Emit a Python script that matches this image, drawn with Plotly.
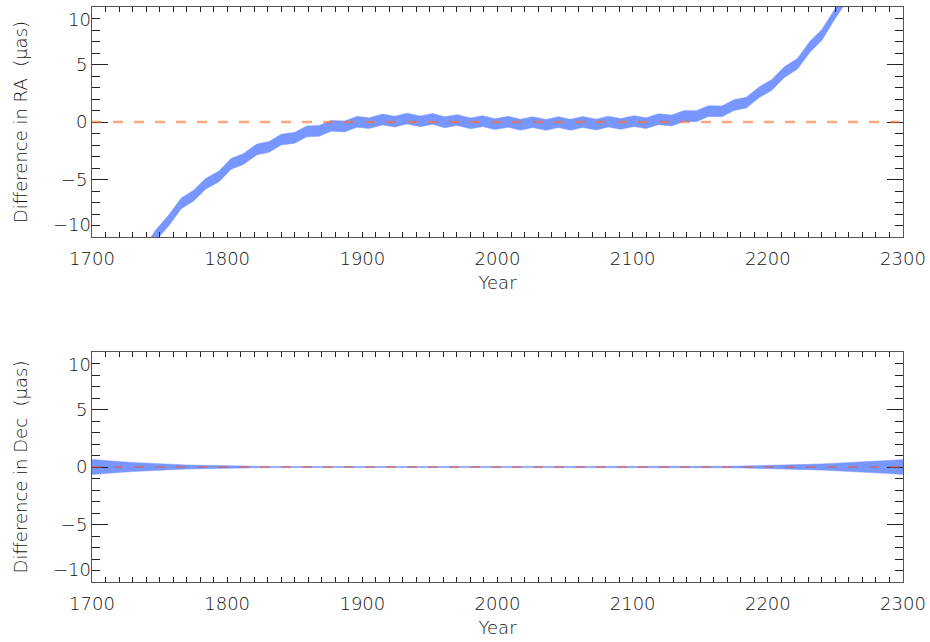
import plotly.graph_objects as go
from plotly.subplots import make_subplots

# ---- data ----
# RA difference: centre of the noisy band at local peaks/troughs of the ~18.6 yr wiggle
ra_year = [1738, 1747, 1757, 1766, 1775, 1784, 1794, 1803, 1812, 1822,
           1831, 1840, 1850, 1859, 1868, 1877, 1887, 1896, 1905, 1915,
           1924, 1933, 1943, 1952, 1961, 1970, 1980, 1989, 1998, 2008,
           2017, 2026, 2036, 2045, 2054, 2063, 2073, 2082, 2091, 2101,
           2110, 2119, 2129, 2138, 2147, 2156, 2166, 2175, 2184, 2194,
           2203, 2212, 2222, 2231, 2240, 2249, 2259, 2268]
ra_mid = [-11.52, -9.88, -8.52, -7.08, -6.42, -5.38, -4.72, -3.63, -3.22, -2.38,
          -2.17, -1.53, -1.37, -0.81, -0.77, -0.33, -0.39, 0.02, -0.1, 0.22,
          0.03, 0.3, 0.06, 0.27, -0.02, 0.17, -0.12, 0.07, -0.19, 0.02,
          -0.24, -0.01, -0.25, -0.01, -0.24, 0.0, -0.22, 0.04, -0.17, 0.07,
          -0.1, 0.24, 0.13, 0.52, 0.5, 0.94, 0.93, 1.47, 1.68, 2.62,
          3.23, 4.32, 5.08, 6.52, 7.58, 9.32, 11.08, 13.62]
ra_half_width = 0.47

# Dec difference: half-width of the band (symmetric about zero)
dec_year = [1700, 1705, 1710, 1720, 1730, 1740, 1750, 1760, 1770, 1780,
            1790, 1800, 1810, 1820, 1830, 1850, 1900, 1950, 2000, 2050,
            2100, 2150, 2170, 2180, 2190, 2200, 2210, 2220, 2230, 2240,
            2250, 2260, 2270, 2280, 2290, 2295, 2300]
dec_half_width = [0.66, 0.6, 0.55, 0.47, 0.4, 0.33, 0.27, 0.22, 0.18, 0.15,
                  0.12, 0.1, 0.08, 0.06, 0.05, 0.04, 0.035, 0.035, 0.035, 0.035,
                  0.035, 0.04, 0.06, 0.08, 0.1, 0.13, 0.16, 0.19, 0.23, 0.27,
                  0.32, 0.37, 0.43, 0.5, 0.57, 0.61, 0.66]

x_range = [1700, 2300]
y_range = [-10, 10]
x_tickvals = [1700, 1800, 1900, 2000, 2100, 2200, 2300]
y_tickvals = [-10, -5, 0, 5, 10]
y_ticktext_inner = ["", "−5", "0", "5", ""]
y_top_label = ["10"]
y_bottom_label = ["−10"]

ra_title = "Difference in RA  (μas)"
dec_title = "Difference in Dec  (μas)"
x_title = "Year"

# ---- styles ----
BAND = "rgb(120,150,255)"
FONT = dict(family="DejaVu Sans", size=18, color="#111111", weight=200)

fig = make_subplots(rows=2, cols=1)

ra_lower = [m - ra_half_width for m in ra_mid]
ra_upper = [m + ra_half_width for m in ra_mid]
fig.add_trace(go.Scatter(x=ra_year, y=ra_lower, mode="lines",
                         line=dict(color=BAND, width=0.5),
                         showlegend=False, hoverinfo="skip"), row=1, col=1)
fig.add_trace(go.Scatter(x=ra_year, y=ra_upper, mode="lines",
                         line=dict(color=BAND, width=0.5),
                         fill="tonexty", fillcolor=BAND,
                         showlegend=False, hoverinfo="skip"), row=1, col=1)

dec_lower = [-h for h in dec_half_width]
fig.add_trace(go.Scatter(x=dec_year, y=dec_lower, mode="lines",
                         line=dict(color=BAND, width=0.5),
                         showlegend=False, hoverinfo="skip"), row=2, col=1)
fig.add_trace(go.Scatter(x=dec_year, y=dec_half_width, mode="lines",
                         line=dict(color=BAND, width=0.5),
                         fill="tonexty", fillcolor=BAND,
                         showlegend=False, hoverinfo="skip"), row=2, col=1)

# empty traces so the overlay axes carrying the end labels get drawn
for xa, ya in [("x", "y3"), ("x", "y4"), ("x2", "y5"), ("x2", "y6")]:
    fig.add_trace(go.Scatter(x=[None], y=[None], xaxis=xa, yaxis=ya, mode="lines",
                             showlegend=False, hoverinfo="skip"))

fig.add_hline(y=0, line=dict(color="rgba(247,110,45,0.6)", width=2.5, dash="10px,11px"),
              row=1, col=1)
fig.add_hline(y=0, line=dict(color="rgb(232,85,55)", width=1.2, dash="10px,11px"),
              row=2, col=1)

common_x = dict(range=x_range, tickvals=x_tickvals, showgrid=False, zeroline=False,
                showline=True, linecolor="#555", linewidth=1, mirror="allticks",
                ticks="inside", ticklen=5, tickcolor="#222", tickwidth=1,
                minor=dict(dtick=10, ticks="inside", ticklen=3, tickcolor="#222", showgrid=False),
                tickfont=FONT, ticklabelstandoff=5, automargin=False,
                title=dict(text=x_title, font=FONT, standoff=8))
common_y = dict(range=y_range, tickvals=y_tickvals, ticktext=y_ticktext_inner,
                showgrid=False, zeroline=False,
                showline=True, linecolor="#555", linewidth=1, mirror="allticks",
                ticks="inside", ticklen=16, tickcolor="#222", tickwidth=1,
                minor=dict(dtick=1, ticks="inside", ticklen=8, tickcolor="#222", showgrid=False),
                tickfont=FONT, automargin=False)

fig.update_xaxes(**common_x)
fig.update_layout(yaxis=common_y, yaxis2=common_y)

end_label = dict(range=y_range, showgrid=False, zeroline=False, showline=False,
                 ticks="", tickfont=FONT, automargin=False, side="left")

fig.update_layout(
    xaxis=dict(domain=[0, 1], anchor="y"),
    yaxis=dict(domain=[0.6, 1.0], anchor="x",
               title=dict(text=ra_title, font=FONT, standoff=28)),
    xaxis2=dict(domain=[0, 1], anchor="y2"),
    yaxis2=dict(domain=[0.0, 0.4], anchor="x2",
                title=dict(text=dec_title, font=FONT, standoff=28)),
    yaxis3=dict(overlaying="y", anchor="x", tickvals=[10], ticktext=y_top_label,
                ticklabelposition="outside bottom", **end_label),
    yaxis4=dict(overlaying="y", anchor="x", tickvals=[-10], ticktext=y_bottom_label,
                ticklabelposition="outside top", **end_label),
    yaxis5=dict(overlaying="y2", anchor="x2", tickvals=[10], ticktext=y_top_label,
                ticklabelposition="outside bottom", **end_label),
    yaxis6=dict(overlaying="y2", anchor="x2", tickvals=[-10], ticktext=y_bottom_label,
                ticklabelposition="outside top", **end_label),
    width=930, height=642,
    margin=dict(l=92, r=27, t=7, b=60),
    paper_bgcolor="white", plot_bgcolor="white",
    font=FONT,
)

fig.write_html("out.html", config={"displayModeBar": False},
               post_script="document.body.style.margin='0px';")
